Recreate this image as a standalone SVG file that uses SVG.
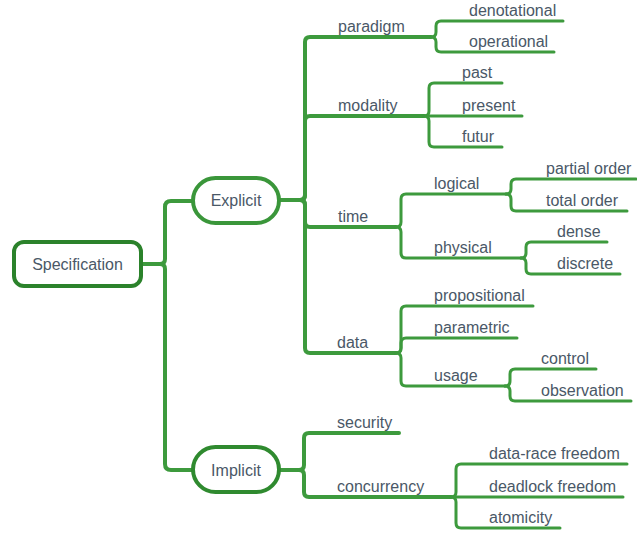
<svg xmlns="http://www.w3.org/2000/svg" width="637" height="533" viewBox="0 0 637 533">
<style>
.c{fill:none;stroke:#3d9a3d;stroke-width:3;stroke-linecap:round;stroke-linejoin:round}
.m{stroke-width:4}
.t{font-family:"Liberation Sans",Arial,sans-serif;font-size:16px;fill:#4a5867}
.b{text-anchor:middle}
.box{fill:#fff;stroke-width:4}
</style>
<rect width="637" height="533" fill="#fff"/>
<g id="connectors">
<path class="c m" d="M141,264 H160 Q165,264 165,259 V207 Q165,201 171,201 H193"/>
<path class="c m" d="M160,264 Q165,264 165,269 V464 Q165,470 171,470 H193"/>
<path class="c m" d="M279,200 H300 Q305,200 305,195 V42 Q305,37 310,37 H431"/>
<path class="c m" d="M300,200 Q305,200 305,195 V121 Q305,116 310,116 H424"/>
<path class="c m" d="M300,200 Q305,200 305,205 V222 Q305,227 310,227 H396"/>
<path class="c m" d="M300,200 Q305,200 305,205 V348 Q305,353 310,353 H396"/>
<path class="c" d="M431,37 Q436,37 436,32 V26 Q436,21 441,21 H563"/>
<path class="c" d="M431,37 Q436,37 436,42 V47 Q436,52 441,52 H554"/>
<path class="c" d="M424,116 Q429,116 429,111 V88 Q429,83 434,83 H502"/>
<path class="c" d="M424,116 H522"/>
<path class="c" d="M424,116 Q429,116 429,121 V142 Q429,147 434,147 H502"/>
<path class="c" d="M396,227 Q401,227 401,222 V199 Q401,194 406,194 H506"/>
<path class="c" d="M396,227 Q401,227 401,232 V253 Q401,258 406,258 H521"/>
<path class="c" d="M506,194 Q511,194 511,189 V184 Q511,179 516,179 H636"/>
<path class="c" d="M506,194 Q511,194 511,199 V206 Q511,211 516,211 H627"/>
<path class="c" d="M521,258 Q526,258 526,253 V247 Q526,242 531,242 H607"/>
<path class="c" d="M521,258 Q526,258 526,263 V269 Q526,274 531,274 H620"/>
<path class="c" d="M396,353 Q401,353 401,348 V311 Q401,306 406,306 H533"/>
<path class="c" d="M396,353 Q401,353 401,348 V343 Q401,338 406,338 H517"/>
<path class="c" d="M396,353 Q401,353 401,358 V381 Q401,386 406,386 H505"/>
<path class="c" d="M505,386 Q510,386 510,381 V374 Q510,369 515,369 H596"/>
<path class="c" d="M505,386 Q510,386 510,391 V396 Q510,401 515,401 H631"/>
<path class="c m" d="M279,470 H299 Q304,470 304,465 V438 Q304,433 309,433 H399"/>
<path class="c m" d="M299,470 Q304,470 304,475 V492 Q304,497 309,497 H451"/>
<path class="c" d="M451,497 Q456,497 456,492 V469 Q456,464 461,464 H627"/>
<path class="c" d="M451,497 H623"/>
<path class="c" d="M451,497 Q456,497 456,502 V523 Q456,528 461,528 H560"/>
</g>
<g id="specification">
<rect class="box" x="14" y="242" width="127" height="44" rx="10" stroke="#2b822b"/>
<text class="t b" x="77.5" y="270">Specification</text>
</g>
<g id="explicit">
<rect class="box" x="193" y="178" width="86" height="45" rx="22.5" stroke="#3a963a"/>
<text class="t b" x="236" y="206">Explicit</text>
</g>
<g id="implicit">
<rect class="box" x="193" y="447" width="86" height="45" rx="22.5" stroke="#2f8a2f"/>
<text class="t b" x="236" y="476">Implicit</text>
</g>
<g id="paradigm"><text class="t" x="338" y="32">paradigm</text></g>
<g id="denotational"><text class="t" x="469" y="16">denotational</text></g>
<g id="operational"><text class="t" x="469" y="47">operational</text></g>
<g id="modality"><text class="t" x="338" y="111">modality</text></g>
<g id="past"><text class="t" x="462" y="78">past</text></g>
<g id="present"><text class="t" x="462" y="111">present</text></g>
<g id="futur"><text class="t" x="462" y="142">futur</text></g>
<g id="time"><text class="t" x="338" y="222">time</text></g>
<g id="logical"><text class="t" x="434" y="189">logical</text></g>
<g id="partial-order"><text class="t" x="546" y="174">partial order</text></g>
<g id="total-order"><text class="t" x="546" y="206">total order</text></g>
<g id="physical"><text class="t" x="434" y="253">physical</text></g>
<g id="dense"><text class="t" x="557" y="237">dense</text></g>
<g id="discrete"><text class="t" x="557" y="269">discrete</text></g>
<g id="data"><text class="t" x="337" y="348">data</text></g>
<g id="propositional"><text class="t" x="434" y="301">propositional</text></g>
<g id="parametric"><text class="t" x="434" y="333">parametric</text></g>
<g id="usage"><text class="t" x="434" y="381">usage</text></g>
<g id="control"><text class="t" x="541" y="364">control</text></g>
<g id="observation"><text class="t" x="541" y="396">observation</text></g>
<g id="security"><text class="t" x="337" y="428">security</text></g>
<g id="concurrency"><text class="t" x="337" y="492">concurrency</text></g>
<g id="data-race-freedom"><text class="t" x="489" y="459">data-race freedom</text></g>
<g id="deadlock-freedom"><text class="t" x="489" y="492">deadlock freedom</text></g>
<g id="atomicity"><text class="t" x="489" y="523">atomicity</text></g>
</svg>
